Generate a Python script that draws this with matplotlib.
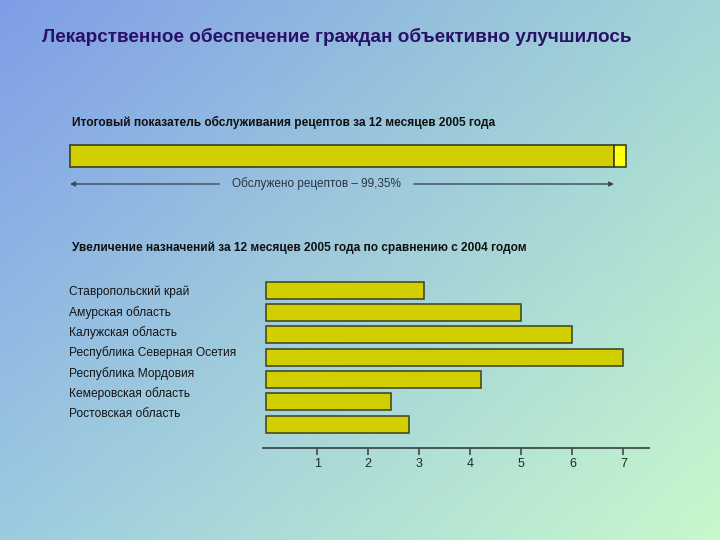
import numpy as np
import matplotlib
matplotlib.use("Agg")
from matplotlib import pyplot as plt
from matplotlib import transforms

plt.rcParams['font.family'] = ['Liberation Sans', 'DejaVu Sans']

# ---------------- data ----------------
title = "Лекарственное обеспечение граждан объективно улучшилось"
top_title = "Итоговый показатель обслуживания рецептов за 12 месяцев 2005 года"
top_segments = [97.85, 2.15]          # widths as drawn in the picture
top_label = "Обслужено рецептов – 99,35%"

bottom_title = "Увеличение назначений за 12 месяцев 2005 года по сравнению с 2004 годом"
regions = ["Ставропольский край", "Амурская область", "Калужская область",
           "Республика Северная Осетия", "Республика Мордовия",
           "Кемеровская область", "Ростовская область"]
values = [3.1, 5.0, 6.0, 7.0, 4.2, 2.45, 2.8]
xticks = [1, 2, 3, 4, 5, 6, 7]

bar_col = '#d2cf00'
end_col = '#ffff10'
edge_col = '#3a4020'
axis_col = '#3d4b4b'

W, H = 720, 540
fig = plt.figure(figsize=(7.2, 5.4), dpi=100)

# background gradient
bg = fig.add_axes([0, 0, 1, 1])
bg.set_xlim(0, W)
bg.set_ylim(H, 0)
bg.axis('off')
tl = np.array([0x7f, 0x9d, 0xe8]) / 255
tr = np.array([0xa2, 0xd6, 0xd6]) / 255
bl = np.array([0x9c, 0xcb, 0xe0]) / 255
br = np.array([0xc8, 0xf8, 0xcc]) / 255
u = np.linspace(0, 1, 200)[None, :, None]
v = np.linspace(0, 1, 150)[:, None, None]
grad = (1-u)*(1-v)*tl + u*(1-v)*tr + (1-u)*v*bl + u*v*br
bg.imshow(grad, extent=[0, W, H, 0], aspect='auto', zorder=0)

bg.text(42, 37, title, fontsize=13.6, fontweight='bold', color='#2a1068',
        va='center', ha='left')
bg.text(72, 122, top_title, fontsize=8.6, fontweight='bold', color='#101010',
        va='center', ha='left')
bg.text(72, 248, bottom_title, fontsize=8.6, fontweight='bold', color='#101010',
        va='center', ha='left')

# ---------------- top bar ----------------
ax1 = fig.add_axes([70/W, 1-167/H, (626-70)/W, 22/H])
ax1.set_xlim(0, sum(top_segments))
ax1.set_ylim(-0.5, 0.5)
ax1.axis('off')
ax1.barh([0], [top_segments[0]], height=1.0, color=bar_col, edgecolor=edge_col,
         linewidth=1.2, clip_on=False)
ax1.barh([0], [top_segments[1]], left=[top_segments[0]], height=1.0, color=end_col,
         edgecolor=edge_col, linewidth=1.2, clip_on=False)

# arrow under served part
tr1 = transforms.blended_transform_factory(ax1.transData, bg.transData)
mid = top_segments[0] * 0.453
ax1.text(mid, 184, top_label, transform=tr1, fontsize=8.5, color='#2a3444',
         ha='center', va='center')
arr = dict(arrowstyle='-|>', color='#3a4a5a', lw=1.0, mutation_scale=7,
           shrinkA=0, shrinkB=0)
ax1.annotate('', xy=(0, 184), xytext=(mid - 17.5, 184), xycoords=tr1,
             textcoords=tr1, arrowprops=arr, annotation_clip=False)
ax1.annotate('', xy=(top_segments[0], 184), xytext=(mid + 17.5, 184), xycoords=tr1,
             textcoords=tr1, arrowprops=arr, annotation_clip=False)

# ---------------- bottom chart ----------------
ax2 = fig.add_axes([263/W, 1-448/H, (649-263)/W, (448-276.8)/H])
ax2.patch.set_alpha(0)
y = np.arange(len(regions))
ax2.barh(y, values, height=0.76, color=bar_col, edgecolor=edge_col, linewidth=1.1)
ax2.set_xlim(-0.06, 7.5)
ax2.set_ylim(len(regions) - 1 + 1.07, -0.6)
for s in ['top', 'right', 'left']:
    ax2.spines[s].set_visible(False)
ax2.spines['bottom'].set_color(axis_col)
ax2.spines['bottom'].set_linewidth(1.3)
ax2.set_yticks([])
ax2.set_xticks(xticks)
ax2.set_xticklabels([str(t) for t in xticks])
ax2.tick_params(axis='x', direction='out', length=5, width=1.2, color=axis_col,
                labelsize=9, labelcolor='#1c2a2a', pad=2)

# region labels (own spacing, as in the picture)
for i, name in enumerate(regions):
    bg.text(69, 292 + i * 20.3, name, fontsize=8.65, color='#151515',
            ha='left', va='center')

fig.savefig('out.png', dpi=100)
